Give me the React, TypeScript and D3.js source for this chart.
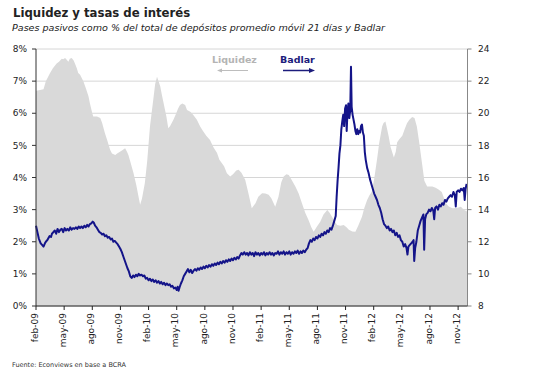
import React from "react";
import * as d3 from "d3";

// months since feb-09 (0 = 2009-02-01), value in %
const liquidezT = [0,0.43,0.8,1.05,1.5,1.8,2.2,2.45,2.75,2.9,3.1,3.3,3.45,3.6,3.8,4.0,4.15,4.35,4.5,4.7,5.05,5.35,5.6,5.75,6.0,6.1,6.5,6.85,7.05,7.35,7.6,7.9,8.1,8.45,8.65,8.95,9.2,9.5,9.7,9.85,10.05,10.4,10.7,10.9,11.1,11.3,11.6,11.85,12.15,12.5,12.7,12.9,13.0,13.25,13.4,13.6,13.9,14.1,14.3,14.65,14.95,15.15,15.35,15.6,15.9,16.1,16.45,16.75,17.15,17.5,17.8,18.15,18.55,18.9,19.3,19.55,19.8,20.05,20.35,20.7,21.0,21.35,21.6,21.9,22.3,22.65,23.0,23.4,23.7,24.1,24.45,24.8,25.1,25.5,25.85,26.15,26.4,26.7,26.95,27.2,27.65,28.0,28.35,28.7,29.05,29.35,29.6,29.9,30.3,30.65,31.05,31.3,31.55,31.8,32.1,32.45,32.8,33.1,33.35,33.72,34.05,34.35,34.75,35.0,35.3,35.55,35.8,36.05,36.35,36.6,36.9,37.05,37.25,37.4,37.6,37.8,38.15,38.35,38.5,38.75,39.05,39.3,39.55,39.8,40.1,40.35,40.6,40.85,41.15,41.4,41.7,42.25,42.6,42.95,43.25,43.7,44.0,44.4,44.85,45.3,45.6,46.0];
const liquidezV = [6.7,6.72,6.75,7.0,7.25,7.4,7.55,7.6,7.7,7.68,7.72,7.66,7.6,7.7,7.72,7.65,7.55,7.4,7.25,7.2,7.0,6.75,6.52,6.3,6.0,5.9,5.9,5.85,5.7,5.38,5.15,4.86,4.75,4.7,4.75,4.8,4.85,4.91,4.8,4.7,4.5,4.13,3.75,3.45,3.15,3.35,3.82,4.5,5.59,6.42,6.9,7.14,7.05,6.83,6.6,6.32,5.9,5.53,5.6,5.8,6.0,6.15,6.26,6.3,6.26,6.1,6.05,5.95,5.8,5.59,5.45,5.3,5.17,4.95,4.76,4.55,4.45,4.35,4.13,4.03,4.1,4.22,4.24,4.15,3.93,3.5,3.04,3.2,3.4,3.51,3.5,3.46,3.35,3.09,3.4,3.85,4.03,4.1,4.08,3.95,3.72,3.5,3.2,2.9,2.68,2.45,2.31,2.45,2.62,2.85,2.99,2.9,2.78,2.65,2.52,2.5,2.52,2.45,2.37,2.32,2.31,2.5,2.78,3.05,3.3,3.45,3.56,3.95,4.55,5.1,5.59,5.7,5.74,5.55,5.28,4.95,4.62,4.8,5.1,5.2,5.3,5.5,5.69,5.8,5.88,5.85,5.59,5.1,4.44,3.9,3.72,3.72,3.68,3.62,3.55,3.2,3.1,3.04,3.05,3.09,3.0,2.93];

// Badlar: [months since feb-09, rate %]
const badlar: [number, number][] = [
  [0,13.0],[0.15,12.6],[0.3,12.2],[0.5,11.9],[0.65,11.8],[0.8,11.7],[0.95,11.9],[1.05,12.0],[1.2,12.1],[1.3,12.2],[1.45,12.35],[1.6,12.3],[1.7,12.5],[1.85,12.6],[2.0,12.7],[2.15,12.5],[2.3,12.8],[2.45,12.6],[2.6,12.75],[2.75,12.8],[2.9,12.6],[3.05,12.85],[3.2,12.7],[3.35,12.8],[3.5,12.7],[3.65,12.9],[3.8,12.75],[3.95,12.85],[4.1,12.8],[4.25,12.9],[4.4,12.8],[4.55,12.95],[4.7,12.85],[4.85,12.95],[5.0,12.85],[5.15,13.0],[5.3,12.9],[5.45,13.05],[5.6,12.95],[5.75,13.1],[5.9,13.15],[6.05,13.25],[6.15,13.2],[6.3,13.0],[6.45,12.9],[6.6,12.75],[6.75,12.6],[6.9,12.55],[7.05,12.45],[7.2,12.5],[7.35,12.35],[7.5,12.4],[7.65,12.25],[7.8,12.3],[7.95,12.15],[8.1,12.2],[8.25,12.0],[8.4,12.05],[8.55,11.95],[8.7,11.85],[8.85,11.7],[9.0,11.55],[9.15,11.35],[9.3,11.1],[9.45,10.85],[9.6,10.6],[9.75,10.35],[9.9,10.15],[10.05,9.85],[10.2,9.75],[10.35,9.9],[10.5,9.8],[10.65,9.95],[10.8,9.85],[10.95,10.0],[11.1,9.9],[11.25,9.95],[11.4,9.85],[11.55,9.9],[11.7,9.7],[11.85,9.75],[12.0,9.6],[12.15,9.7],[12.3,9.55],[12.45,9.65],[12.6,9.5],[12.75,9.6],[12.9,9.45],[13.05,9.55],[13.2,9.4],[13.35,9.5],[13.5,9.35],[13.65,9.45],[13.8,9.3],[13.95,9.4],[14.1,9.3],[14.25,9.35],[14.4,9.2],[14.55,9.25],[14.7,9.1],[14.85,9.15],[15.0,9.0],[15.1,9.2],[15.2,8.95],[15.3,9.15],[15.45,9.4],[15.6,9.6],[15.75,9.85],[15.9,10.0],[16.05,10.15],[16.2,10.3],[16.35,10.1],[16.5,10.25],[16.65,10.05],[16.8,10.2],[16.95,10.3],[17.1,10.2],[17.25,10.35],[17.4,10.25],[17.55,10.4],[17.7,10.3],[17.85,10.45],[18.0,10.35],[18.15,10.5],[18.3,10.4],[18.45,10.55],[18.6,10.45],[18.75,10.6],[18.9,10.5],[19.05,10.65],[19.2,10.55],[19.35,10.7],[19.5,10.6],[19.65,10.75],[19.8,10.65],[19.95,10.8],[20.1,10.7],[20.25,10.85],[20.4,10.75],[20.55,10.9],[20.7,10.8],[20.85,10.95],[21.0,10.85],[21.15,11.0],[21.3,10.9],[21.45,11.05],[21.6,10.95],[21.75,11.15],[21.9,11.3],[22.05,11.2],[22.2,11.35],[22.35,11.2],[22.5,11.3],[22.65,11.15],[22.8,11.35],[22.95,11.2],[23.1,11.3],[23.25,11.1],[23.4,11.35],[23.55,11.2],[23.7,11.3],[23.85,11.15],[24.0,11.3],[24.15,11.2],[24.3,11.35],[24.45,11.15],[24.6,11.3],[24.75,11.2],[24.9,11.35],[25.05,11.2],[25.2,11.3],[25.35,11.15],[25.5,11.3],[25.65,11.25],[25.8,11.4],[25.95,11.2],[26.1,11.35],[26.25,11.25],[26.4,11.4],[26.55,11.2],[26.7,11.35],[26.85,11.25],[27.0,11.4],[27.15,11.2],[27.3,11.35],[27.45,11.25],[27.6,11.4],[27.75,11.3],[27.9,11.45],[28.05,11.25],[28.2,11.4],[28.35,11.3],[28.5,11.45],[28.65,11.35],[28.8,11.5],[28.95,11.6],[29.1,11.9],[29.25,12.1],[29.4,12.0],[29.55,12.2],[29.7,12.1],[29.85,12.3],[30.0,12.2],[30.15,12.4],[30.3,12.3],[30.45,12.5],[30.6,12.4],[30.75,12.6],[30.9,12.5],[31.05,12.7],[31.2,12.6],[31.35,12.85],[31.5,12.75],[31.65,13.0],[31.8,13.3],[31.95,13.6],[32.05,14.8],[32.15,15.8],[32.25,16.6],[32.35,17.5],[32.45,18.0],[32.55,19.0],[32.65,19.5],[32.75,19.9],[32.85,19.2],[32.95,20.3],[33.05,20.5],[33.12,18.9],[33.2,20.0],[33.3,20.6],[33.4,19.7],[33.5,20.2],[33.58,22.9],[33.65,20.4],[33.75,19.9],[33.85,19.6],[33.95,19.3],[34.05,18.9],[34.15,18.7],[34.25,19.0],[34.35,18.7],[34.45,18.9],[34.55,18.8],[34.65,19.2],[34.75,19.3],[34.85,18.8],[34.95,18.6],[35.05,17.6],[35.15,17.1],[35.3,16.6],[35.45,16.3],[35.6,15.9],[35.75,15.6],[35.9,15.3],[36.05,15.0],[36.2,14.8],[36.35,14.6],[36.5,14.3],[36.65,14.1],[36.8,13.8],[36.95,13.4],[37.1,13.1],[37.25,13.0],[37.4,12.85],[37.55,12.95],[37.7,12.7],[37.85,12.8],[38.0,12.6],[38.15,12.7],[38.3,12.4],[38.45,12.55],[38.6,12.3],[38.75,12.4],[38.9,12.1],[39.05,12.0],[39.2,11.7],[39.35,11.85],[39.5,11.6],[39.6,11.2],[39.7,11.7],[39.85,11.8],[40.0,11.9],[40.15,12.0],[40.25,12.1],[40.32,10.8],[40.42,11.6],[40.55,12.0],[40.7,12.7],[40.85,13.0],[41.0,13.3],[41.15,13.5],[41.3,13.7],[41.38,11.5],[41.48,13.4],[41.6,13.7],[41.75,13.8],[41.9,14.0],[42.05,13.9],[42.2,14.1],[42.35,13.95],[42.45,13.4],[42.55,14.1],[42.7,14.2],[42.85,14.0],[43.0,14.3],[43.15,14.2],[43.3,14.4],[43.45,14.3],[43.6,14.6],[43.75,14.5],[43.9,14.7],[44.05,14.8],[44.2,14.9],[44.35,14.8],[44.5,15.1],[44.65,14.9],[44.75,14.2],[44.85,15.1],[45.0,15.2],[45.15,15.1],[45.3,15.3],[45.45,15.2],[45.6,15.35],[45.7,14.6],[45.8,15.3],[45.9,15.6]
];

const xTickLabels = ["feb-09","may-09","ago-09","nov-09","feb-10","may-10","ago-10","nov-10","feb-11","may-11","ago-11","nov-11","feb-12","may-12","ago-12","nov-12"];
const leftTicks = [0,1,2,3,4,5,6,7,8];
const rightTicks = [8,10,12,14,16,18,20,22,24];

const W = 533, H = 378;
const L = 36, R = 467.5, T = 49, B = 306;

export default function App() {
  const x = d3.scaleLinear().domain([0, 46]).range([L, R]);
  const yL = d3.scaleLinear().domain([0, 8]).range([B, T]);
  const yR = d3.scaleLinear().domain([8, 24]).range([B, T]);

  const liq = liquidezT.map((t, i) => [t, liquidezV[i]] as [number, number]);

  const area = d3.area<[number, number]>().x(d => x(d[0])).y0(yL(0)).y1(d => yL(d[1]));
  const line = d3.line<[number, number]>().x(d => x(d[0])).y(d => yR(d[1]));

  const font = "DejaVu Sans, Verdana, sans-serif";

  return (
    <svg width={W} height={H} style={{ position: "absolute", left: 0, top: 0, background: "#fff" }} fontFamily={font}>
      <rect x={0} y={0} width={W} height={H} fill="#fff" />
      <text x={13} y={17} fontSize={11.7} fontWeight="bold" fill="#222">Liquidez y tasas de interés</text>
      <text x={12} y={31} fontSize={9.2} fontStyle="italic" fill="#222" textLength={373} lengthAdjust="spacingAndGlyphs">Pases pasivos como % del total de depósitos promedio móvil 21 días y Badlar</text>

      {leftTicks.map(v => (
        <line key={"g" + v} x1={L} x2={R} y1={yL(v)} y2={yL(v)} stroke="#d6d6d6" strokeWidth={1} />
      ))}
      <path d={area(liq) || ""} fill="#d9d9d9" />
      <path d={line(badlar) || ""} fill="none" stroke="#141489" strokeWidth={2} strokeLinejoin="round" />

      {/* left axis */}
      <line x1={L} x2={L} y1={T} y2={B} stroke="#333" strokeWidth={1} />
      {leftTicks.map(v => (
        <g key={"l" + v}>
          <line x1={L - 4} x2={L} y1={yL(v)} y2={yL(v)} stroke="#333" />
          <text x={27} y={yL(v)} dy="0.35em" textAnchor="end" fontSize={9} fill="#222">{v + "%"}</text>
        </g>
      ))}
      {/* right axis */}
      <line x1={R} x2={R} y1={T} y2={B} stroke="#888" strokeWidth={1} />
      {rightTicks.map(v => (
        <g key={"r" + v}>
          <line x1={R} x2={R + 4} y1={yR(v)} y2={yR(v)} stroke="#888" />
          <text x={478} y={yR(v)} dy="0.35em" textAnchor="start" fontSize={9} fill="#222">{v}</text>
        </g>
      ))}
      {/* bottom axis */}
      <line x1={L} x2={R} y1={B} y2={B} stroke="#222" strokeWidth={1.2} />
      {xTickLabels.map((s, i) => {
        const tx = x(i * 3);
        return (
          <g key={s}>
            <line x1={tx} x2={tx} y1={B} y2={B + 4} stroke="#222" />
            <text transform={`translate(${tx - 1.5},${B + 7}) rotate(-90)`} dy="0.35em" textAnchor="end" fontSize={9} fill="#222">{s}</text>
          </g>
        );
      })}

      {/* legend */}
      <text x={212} y={63} fontSize={9.5} fontWeight="bold" fill="#b4b4b4">Liquidez</text>
      <line x1={220} x2={248} y1={70.5} y2={70.5} stroke="#bdbdbd" strokeWidth={1} />
      <path d="M217,70.5 L222,68.5 L222,72.5 Z" fill="#bdbdbd" />
      <text x={280} y={63} fontSize={9.5} fontWeight="bold" fill="#1c1c7c">Badlar</text>
      <line x1={283} x2={311} y1={70.5} y2={70.5} stroke="#1c1c7c" strokeWidth={1.5} />
      <path d="M315,70.5 L309,68 L309,73 Z" fill="#1c1c7c" />

      <text x={12} y={367} fontSize={6.5} fill="#333">Fuente: Econviews en base a BCRA</text>
    </svg>
  );
}
